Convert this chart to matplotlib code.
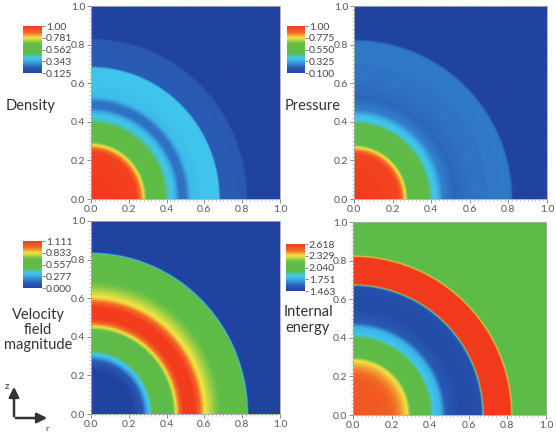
import numpy as np
import matplotlib
matplotlib.use("Agg")
import matplotlib.pyplot as plt
from matplotlib.colors import LinearSegmentedColormap
from matplotlib.patches import FancyArrowPatch

plt.rcParams['font.family'] = ['Lato', 'DejaVu Sans']

# radial profiles: (radius, value)
density_r = [0.0, 0.24, 0.275, 0.30, 0.37, 0.40, 0.44, 0.47, 0.50, 0.53, 0.60, 0.675, 0.685, 0.82, 0.83, 1.0]
density_v = [1.0, 0.98, 0.80, 0.62, 0.60, 0.45, 0.38, 0.26, 0.26, 0.38, 0.40, 0.40, 0.22, 0.21, 0.125, 0.125]

pressure_r = [0.0, 0.23, 0.265, 0.29, 0.37, 0.40, 0.43, 0.46, 0.52, 0.62, 0.80, 0.815, 0.825, 1.0]
pressure_v = [1.0, 0.97, 0.78, 0.56, 0.55, 0.42, 0.36, 0.26, 0.22, 0.24, 0.25, 0.24, 0.10, 0.10]

velocity_r = [0.0, 0.22, 0.27, 0.30, 0.34, 0.42, 0.45, 0.49, 0.55, 0.60, 0.66, 0.74, 0.82, 0.828, 0.835, 1.0]
velocity_v = [0.0, 0.0, 0.10, 0.31, 0.55, 0.56, 0.83, 1.10, 1.10, 0.84, 0.72, 0.62, 0.58, 0.35, 0.0, 0.0]

energy_r = [0.0, 0.18, 0.24, 0.28, 0.31, 0.38, 0.42, 0.45, 0.48, 0.55, 0.66, 0.668, 0.675, 0.81, 0.818, 0.826, 1.0]
energy_v = [2.53, 2.50, 2.42, 2.33, 2.06, 2.03, 1.82, 1.78, 1.58, 1.51, 1.53, 1.70, 2.618, 2.618, 2.38, 2.04, 2.04]

panels = [
    ("Density", density_r, density_v, 0.125, 1.0, ["0.125", "0.343", "0.562", "0.781", "1.00"]),
    ("Pressure", pressure_r, pressure_v, 0.100, 1.0, ["0.100", "0.325", "0.550", "0.775", "1.00"]),
    ("Velocity\nfield\nmagnitude", velocity_r, velocity_v, 0.0, 1.111, ["0.000", "0.277", "0.557", "0.833", "1.111"]),
    ("Internal\nenergy", energy_r, energy_v, 1.463, 2.618, ["1.463", "1.751", "2.040", "2.329", "2.618"]),
]

cmap = LinearSegmentedColormap.from_list("rainbow_pv", [
    (0.00, "#2143a0"),
    (0.12, "#2b5fb8"),
    (0.24, "#3aa6e2"),
    (0.32, "#40c8ee"),
    (0.42, "#5ebb4a"),
    (0.62, "#60bd46"),
    (0.75, "#f2e441"),
    (0.86, "#f26a26"),
    (1.00, "#f23a1c"),
])

W, H = 556, 436
fig = plt.figure(figsize=(W / 100, H / 100), dpi=100)

def px(l, t, r, b):
    return [l / W, 1 - b / H, (r - l) / W, (b - t) / H]

ax_boxes = [px(91, 6, 280, 199), px(354, 6, 547, 199), px(91, 221, 280, 414), px(353, 222, 546, 415)]
cb_boxes = [px(23, 26, 42, 73), px(287, 26, 305, 73), px(23, 241, 42, 288), px(286, 244, 305, 291)]
label_pos = [(31, 106), (313, 106), (38, 330), (308, 320)]

n = 500
x = (np.arange(n) + 0.5) / n
X, Z = np.meshgrid(x, x)
R = np.sqrt(X ** 2 + Z ** 2)

for (name, rr, vv, vmin, vmax, cticks), box, cbox, lp in zip(panels, ax_boxes, cb_boxes, label_pos):
    ax = fig.add_axes(box)
    field = np.interp(R, rr, vv)
    im = ax.imshow(field, extent=[0, 1, 0, 1], origin="lower", cmap=cmap,
                   vmin=vmin, vmax=vmax, interpolation="bilinear", aspect="auto")
    ax.set_xlim(0, 1)
    ax.set_ylim(0, 1)
    ticks = np.arange(0, 1.01, 0.2)
    ax.set_xticks(ticks)
    ax.set_yticks(ticks)
    ax.set_xticks(np.arange(0, 1.001, 0.02), minor=True)
    ax.set_yticks(np.arange(0, 1.001, 0.02), minor=True)
    ax.set_xticklabels(["%.1f" % t for t in ticks])
    ax.set_yticklabels(["%.1f" % t for t in ticks])
    ax.tick_params(which="major", length=3, width=0.6, color="#777777", labelsize=7.5,
                   labelcolor="#555555", pad=1)
    ax.tick_params(which="minor", length=1.5, width=0.4, color="#999999")
    for s in ax.spines.values():
        s.set_color("#aaaaaa")
        s.set_linewidth(0.6)

    cax = fig.add_axes(cbox)
    cb = fig.colorbar(im, cax=cax)
    cb.set_ticks(np.linspace(vmin, vmax, 5))
    cb.set_ticklabels(cticks)
    cb.outline.set_visible(False)
    cax.tick_params(length=2.5, width=0.6, color="#666666", labelsize=7.5, labelcolor="#444444", pad=0.3)

    fig.text(lp[0] / W, 1 - lp[1] / H, name, ha="center", va="center", fontsize=10.5,
             color="#333333", linespacing=1.1)

# r / z axis arrows
def fp(xp, yp):
    return (xp / W, 1 - yp / H)

fig.add_artist(FancyArrowPatch(fp(14, 419), fp(14, 384), transform=fig.transFigure,
                               arrowstyle="-|>,head_length=6,head_width=3", lw=1.8, color="#333333"))
fig.add_artist(FancyArrowPatch(fp(13, 418), fp(50, 418), transform=fig.transFigure,
                               arrowstyle="-|>,head_length=6,head_width=3", lw=1.8, color="#333333"))
fig.text(7 / W, 1 - 386 / H, "z", fontsize=7, ha="center", va="center", color="#333333")
fig.text(47 / W, 1 - 428 / H, "r", fontsize=6, ha="center", va="center", color="#333333")

fig.savefig("out.png", dpi=100)
